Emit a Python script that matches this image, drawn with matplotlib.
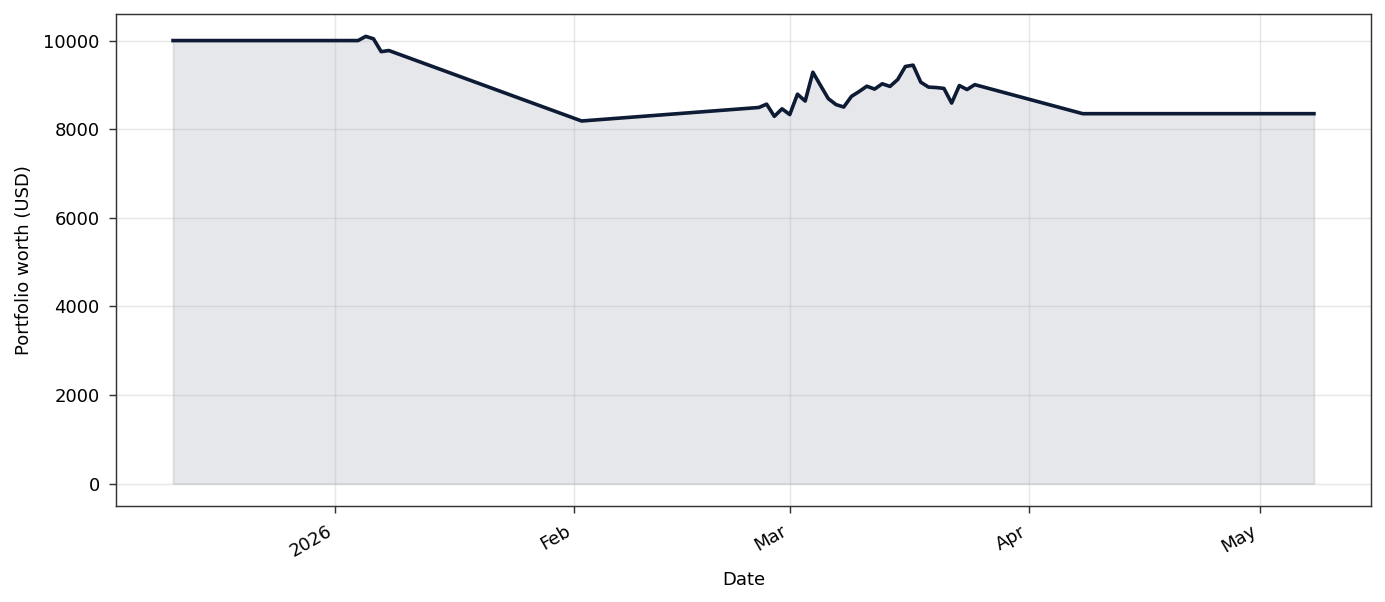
import numpy as np
import pandas as pd
import matplotlib
matplotlib.use("Agg")
import matplotlib.pyplot as plt
import matplotlib.dates as mdates

# portfolio worth
dates = [
    "2025-12-11", "2026-01-04", "2026-01-05", "2026-01-06", "2026-01-07",
    "2026-01-08", "2026-02-02", "2026-02-25", "2026-02-26", "2026-02-27",
    "2026-02-28", "2026-03-01", "2026-03-02", "2026-03-03", "2026-03-04",
    "2026-03-05", "2026-03-06", "2026-03-07", "2026-03-08", "2026-03-09",
    "2026-03-10", "2026-03-11", "2026-03-12", "2026-03-13", "2026-03-14",
    "2026-03-15", "2026-03-16", "2026-03-17", "2026-03-18", "2026-03-19",
    "2026-03-20", "2026-03-21", "2026-03-22", "2026-03-23", "2026-03-24",
    "2026-03-25", "2026-04-08", "2026-05-08",
]
worth = [
    10000, 10000, 10095, 10040, 9750,
    9775, 8185, 8490, 8565, 8290,
    8460, 8330, 8790, 8635, 9285,
    8985, 8690, 8555, 8500, 8740,
    8850, 8970, 8905, 9025, 8965,
    9120, 9415, 9445, 9060, 8950,
    8940, 8920, 8590, 8985, 8895,
    9005, 8350, 8350,
]

dates = pd.to_datetime(dates)
line_color = "#0d1b35"

dpi = 130
fig, ax = plt.subplots(figsize=(1385 / dpi, 602 / dpi), dpi=dpi)

ax.plot(dates, worth, color=line_color, linewidth=2.0)
ax.fill_between(dates, worth, color=line_color, alpha=0.1)

locator = mdates.AutoDateLocator()
ax.xaxis.set_major_locator(locator)
ax.xaxis.set_major_formatter(mdates.ConciseDateFormatter(locator))
ax.set_xlabel("Date", labelpad=6)
ax.set_ylabel("Portfolio worth (USD)", labelpad=6)
ax.tick_params(pad=5, length=4, color="#333333")
for s in ax.spines.values():
    s.set_edgecolor("#333333")
ax.grid(alpha=0.3)
fig.autofmt_xdate()
fig.subplots_adjust(left=116 / 1385, right=1371 / 1385, top=1 - 14 / 602, bottom=1 - 506 / 602)

fig.savefig("out.png", dpi=dpi)
